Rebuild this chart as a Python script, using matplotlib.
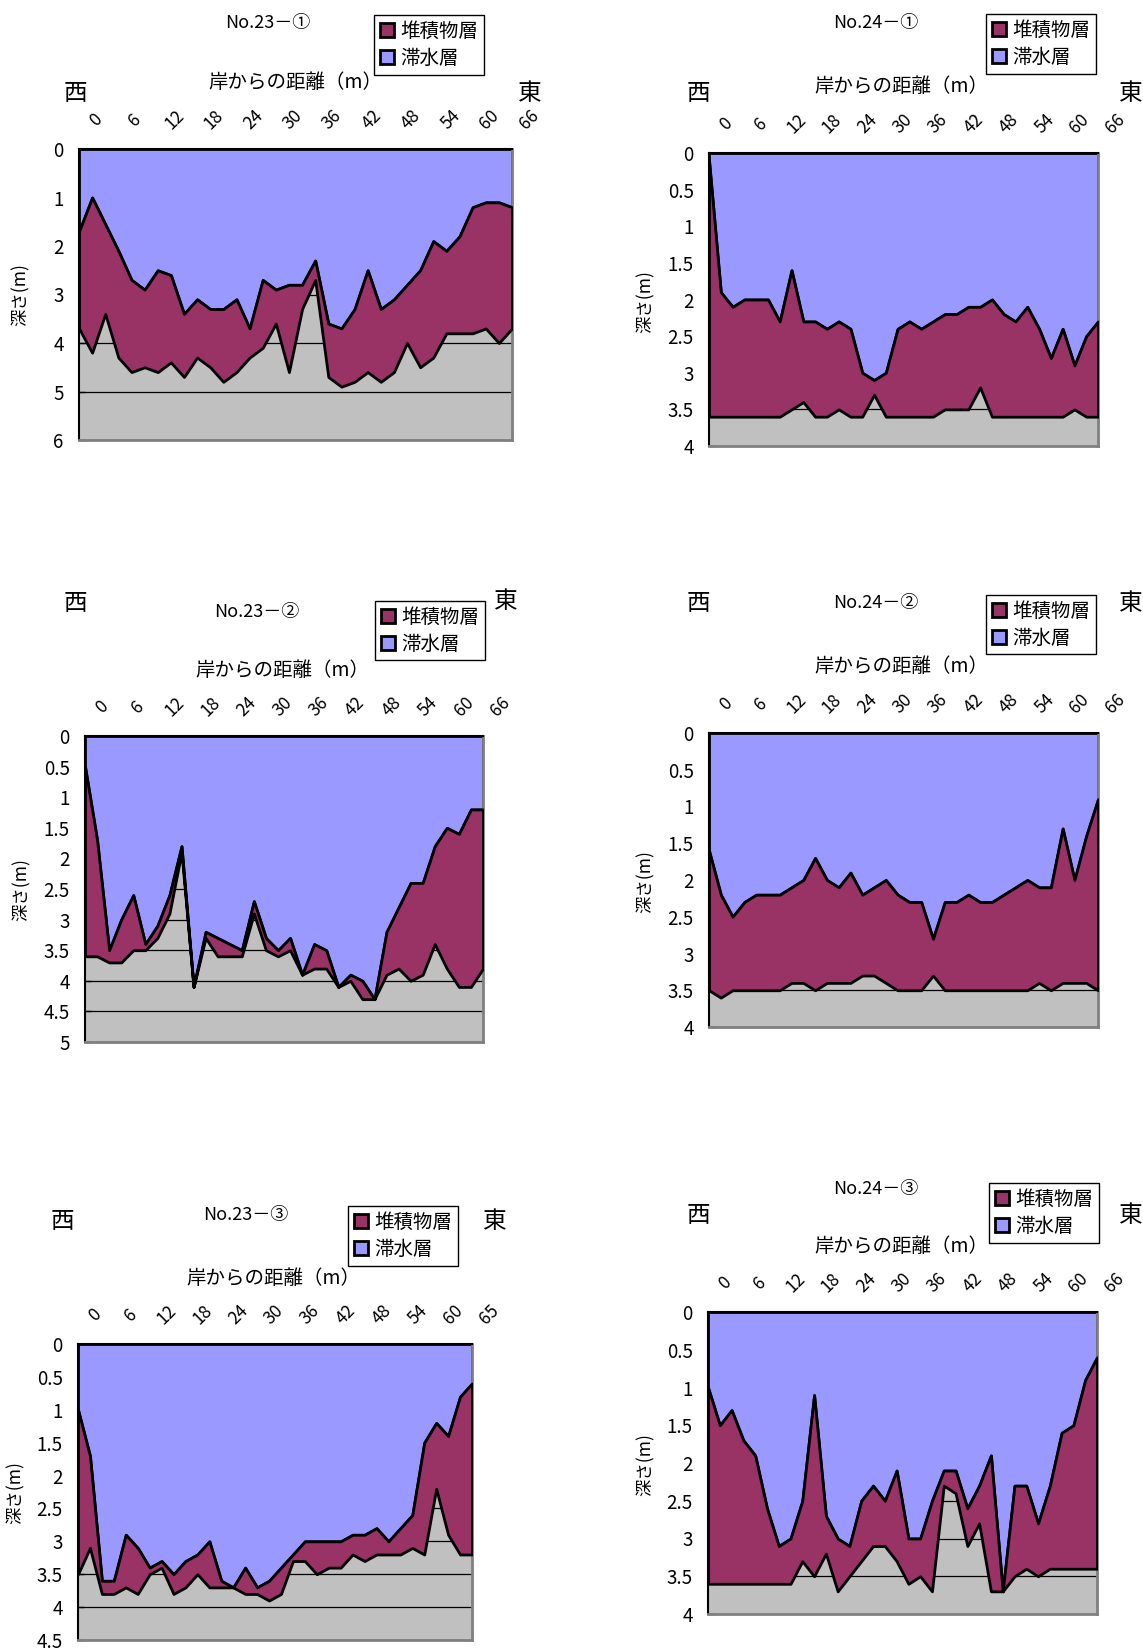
import numpy as np
import matplotlib
matplotlib.use("Agg")
import matplotlib.pyplot as plt
import matplotlib.transforms as mtransforms
from matplotlib.patches import Patch

plt.rcParams["font.family"] = ["Noto Sans CJK JP", "DejaVu Sans"]

W, H = 1143, 1648
BLUE = "#9999FF"
MAROON = "#993366"
GRAY = "#C0C0C0"

legend_labels = ["堆積物層", "滞水層"]
xlabel_text = "岸からの距離（m）"
ylabel_text = "深さ(m)"

# distance from shore (m), category axis
dist_66 = [0, 2, 4, 6, 8, 10, 12, 14, 16, 18, 20, 22, 24, 26, 28, 30, 32,
           34, 36, 38, 40, 42, 44, 46, 48, 50, 52, 54, 56, 58, 60, 62, 64, 66]
dist_65 = [0, 2, 4, 6, 8, 10, 12, 14, 16, 18, 20, 22, 24, 26, 28, 30, 32,
           34, 36, 38, 40, 42, 44, 46, 48, 50, 52, 54, 56, 58, 60, 62, 64, 65]

# depth to top of sediment (= water depth) and to bottom of sediment, m
top_23_1 = [1.7, 1.0, 1.55, 2.1, 2.7, 2.9, 2.5, 2.6, 3.4, 3.1, 3.3, 3.3, 3.1, 3.7,
            2.7, 2.9, 2.8, 2.8, 2.3, 3.6, 3.7, 3.3, 2.5, 3.3, 3.1, 2.8, 2.5, 1.9,
            2.1, 1.8, 1.2, 1.1, 1.1, 1.2]
bot_23_1 = [3.7, 4.2, 3.4, 4.3, 4.6, 4.5, 4.6, 4.4, 4.7, 4.3, 4.5, 4.8, 4.6, 4.3,
            4.1, 3.6, 4.6, 3.3, 2.7, 4.7, 4.9, 4.8, 4.6, 4.8, 4.6, 4.0, 4.5, 4.3,
            3.8, 3.8, 3.8, 3.7, 4.0, 3.7]

top_24_1 = [0.1, 1.9, 2.1, 2.0, 2.0, 2.0, 2.3, 1.6, 2.3, 2.3, 2.4, 2.3, 2.4, 3.0,
            3.1, 3.0, 2.4, 2.3, 2.4, 2.3, 2.2, 2.2, 2.1, 2.1, 2.0, 2.2, 2.3, 2.1,
            2.4, 2.8, 2.4, 2.9, 2.5, 2.3]
bot_24_1 = [3.6, 3.6, 3.6, 3.6, 3.6, 3.6, 3.6, 3.5, 3.4, 3.6, 3.6, 3.5, 3.6, 3.6,
            3.3, 3.6, 3.6, 3.6, 3.6, 3.6, 3.5, 3.5, 3.5, 3.2, 3.6, 3.6, 3.6, 3.6,
            3.6, 3.6, 3.6, 3.5, 3.6, 3.6]

top_23_2 = [0.5, 1.7, 3.5, 3.0, 2.6, 3.4, 3.1, 2.6, 1.8, 4.1, 3.2, 3.3, 3.4, 3.5,
            2.7, 3.3, 3.5, 3.3, 3.9, 3.4, 3.5, 4.1, 3.9, 4.0, 4.3, 3.2, 2.8, 2.4,
            2.4, 1.8, 1.5, 1.6, 1.2, 1.2]
bot_23_2 = [3.6, 3.6, 3.7, 3.7, 3.5, 3.5, 3.3, 2.9, 1.9, 4.1, 3.3, 3.6, 3.6, 3.6,
            2.9, 3.5, 3.6, 3.5, 3.9, 3.8, 3.8, 4.1, 4.0, 4.3, 4.3, 3.9, 3.8, 4.0,
            3.9, 3.4, 3.8, 4.1, 4.1, 3.8]

top_24_2 = [1.6, 2.2, 2.5, 2.3, 2.2, 2.2, 2.2, 2.1, 2.0, 1.7, 2.0, 2.1, 1.9, 2.2,
            2.1, 2.0, 2.2, 2.3, 2.3, 2.8, 2.3, 2.3, 2.2, 2.3, 2.3, 2.2, 2.1, 2.0,
            2.1, 2.1, 1.3, 2.0, 1.4, 0.9]
bot_24_2 = [3.5, 3.6, 3.5, 3.5, 3.5, 3.5, 3.5, 3.4, 3.4, 3.5, 3.4, 3.4, 3.4, 3.3,
            3.3, 3.4, 3.5, 3.5, 3.5, 3.3, 3.5, 3.5, 3.5, 3.5, 3.5, 3.5, 3.5, 3.5,
            3.4, 3.5, 3.4, 3.4, 3.4, 3.5]

top_23_3 = [1.0, 1.7, 3.6, 3.6, 2.9, 3.1, 3.4, 3.3, 3.5, 3.3, 3.2, 3.0, 3.6, 3.7,
            3.4, 3.7, 3.6, 3.4, 3.2, 3.0, 3.0, 3.0, 3.0, 2.9, 2.9, 2.8, 3.0, 2.8,
            2.6, 1.5, 1.2, 1.4, 0.8, 0.6]
bot_23_3 = [3.5, 3.1, 3.8, 3.8, 3.7, 3.8, 3.5, 3.4, 3.8, 3.7, 3.5, 3.7, 3.7, 3.7,
            3.8, 3.8, 3.9, 3.8, 3.3, 3.3, 3.5, 3.4, 3.4, 3.2, 3.3, 3.2, 3.2, 3.2,
            3.1, 3.2, 2.2, 2.9, 3.2, 3.2]

top_24_3 = [1.0, 1.5, 1.3, 1.7, 1.9, 2.6, 3.1, 3.0, 2.5, 1.1, 2.7, 3.0, 3.1, 2.5,
            2.3, 2.5, 2.1, 3.0, 3.0, 2.5, 2.1, 2.1, 2.6, 2.3, 1.9, 3.7, 2.3, 2.3,
            2.8, 2.3, 1.6, 1.5, 0.9, 0.6]
bot_24_3 = [3.6, 3.6, 3.6, 3.6, 3.6, 3.6, 3.6, 3.6, 3.3, 3.5, 3.2, 3.7, 3.5, 3.3,
            3.1, 3.1, 3.3, 3.6, 3.5, 3.7, 2.3, 2.4, 3.1, 2.8, 3.7, 3.7, 3.5, 3.4,
            3.5, 3.4, 3.4, 3.4, 3.4, 3.4]


def px_rect(l, t, r, b):
    return [l / W, 1 - b / H, (r - l) / W, (b - t) / H]


def fxy(x, y):
    return x / W, 1 - y / H


def draw_panel(fig, rect, dist, top, bottom, ymax, ystep, title, lay):
    ax = fig.add_axes(px_rect(*rect))
    x = list(range(len(dist)))
    ax.set_facecolor(GRAY)
    ax.fill_between(x, 0, top, facecolor=BLUE, edgecolor="black",
                    linewidth=2, zorder=2)
    ax.fill_between(x, top, bottom, facecolor=MAROON, edgecolor="black",
                    linewidth=2, zorder=3)
    ax.set_xlim(0, len(dist) - 1)
    ax.set_ylim(ymax, 0)

    yt = np.arange(0, ymax + 1e-9, ystep)
    ax.set_yticks(yt)
    ax.set_yticklabels([f"{v:g}" for v in yt])
    ax.yaxis.grid(True, color="black", linewidth=0.9)
    ax.set_axisbelow(True)

    ax.xaxis.tick_top()
    ax.set_xticks(x)
    ax.set_xticklabels([str(d) if i % 3 == 0 else "" for i, d in enumerate(dist)])
    ax.tick_params(axis="x", direction="in", length=4, width=1, pad=0,
                   labelsize=12.5, labelrotation=45)
    ax.tick_params(axis="y", direction="in", length=4, width=1, pad=11,
                   labelsize=13.5)

    for s in ("left", "top"):
        ax.spines[s].set_color("black")
        ax.spines[s].set_linewidth(1.5)
    for s in ("right", "bottom"):
        ax.spines[s].set_color("#808080")
        ax.spines[s].set_linewidth(2)

    offset = mtransforms.ScaledTranslation(17 / 100, 29 / 100, fig.dpi_scale_trans)
    for lbl in ax.get_xticklabels():
        lbl.set_ha("center")
        lbl.set_va("center")
        lbl.set_transform(lbl.get_transform() + offset)

    handles = [Patch(facecolor=MAROON, edgecolor="black", linewidth=2),
               Patch(facecolor=BLUE, edgecolor="black", linewidth=2)]
    leg = ax.legend(handles, legend_labels, loc="upper left",
                    bbox_to_anchor=fxy(*lay["legend"]),
                    bbox_transform=fig.transFigure, fancybox=False,
                    edgecolor="black", framealpha=1, fontsize=14,
                    handlelength=0.75, handleheight=0.75, handletextpad=0.3,
                    borderpad=0.3, labelspacing=0.3, borderaxespad=0)
    leg.get_frame().set_linewidth(1)

    fig.text(*fxy(*lay["title"]), title, ha="center", va="center", fontsize=13)
    fig.text(*fxy(*lay["west"]), "西", ha="center", va="center", fontsize=17)
    fig.text(*fxy(*lay["east"]), "東", ha="center", va="center", fontsize=17)
    fig.text(*fxy(*lay["xlabel"]), xlabel_text, ha="center", va="center",
             fontsize=14)
    fig.text(*fxy(*lay["ylabel"]), ylabel_text, ha="center", va="center",
             rotation=90, fontsize=12.5)
    return ax


fig = plt.figure(figsize=(W / 100, H / 100), dpi=100)

draw_panel(fig, (79, 149, 512, 440), dist_66, top_23_1, bot_23_1, 6, 1,
           "No.23－①",
           {"title": (268, 23), "legend": (374, 15), "west": (75, 93),
            "east": (530, 93), "xlabel": (295, 83), "ylabel": (21, 295)})
draw_panel(fig, (709, 153, 1098, 446), dist_66, top_24_1, bot_24_1, 4, 0.5,
           "No.24－①",
           {"title": (876, 23), "legend": (986, 14), "west": (698, 93),
            "east": (1131, 93), "xlabel": (901, 87), "ylabel": (646, 302)})
draw_panel(fig, (85, 736, 483, 1042), dist_66, top_23_2, bot_23_2, 5, 0.5,
           "No.23－②",
           {"title": (257, 612), "legend": (375, 601), "west": (75, 603),
            "east": (506, 602), "xlabel": (282, 670), "ylabel": (22, 890)})
draw_panel(fig, (709, 733, 1098, 1027), dist_66, top_24_2, bot_24_2, 4, 0.5,
           "No.24－②",
           {"title": (876, 603), "legend": (986, 595), "west": (698, 603),
            "east": (1131, 603), "xlabel": (901, 667), "ylabel": (646, 882)})
draw_panel(fig, (78, 1344, 472, 1640), dist_65, top_23_3, bot_23_3, 4.5, 0.5,
           "No.23－③",
           {"title": (246, 1215), "legend": (348, 1206), "west": (62, 1222),
            "east": (495, 1222), "xlabel": (273, 1278), "ylabel": (16, 1493)})
draw_panel(fig, (708, 1312, 1097, 1614), dist_66, top_24_3, bot_24_3, 4, 0.5,
           "No.24－③",
           {"title": (876, 1189), "legend": (989, 1183), "west": (698, 1215),
            "east": (1131, 1215), "xlabel": (901, 1246), "ylabel": (646, 1465)})

fig.savefig("out.png", dpi=100)
